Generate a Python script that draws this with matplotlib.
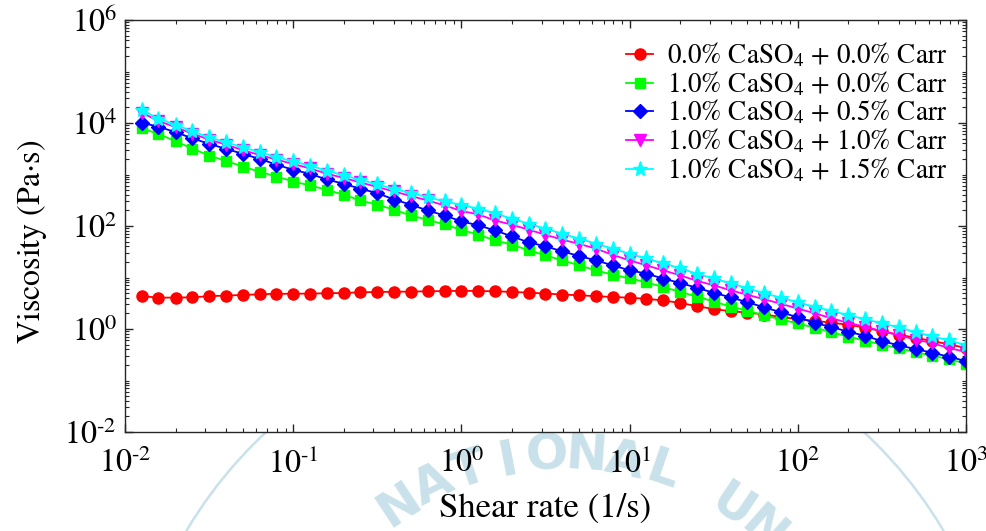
import matplotlib
matplotlib.use("Agg")
import matplotlib.pyplot as plt
from matplotlib.patches import Circle
from matplotlib.ticker import FixedLocator, LogLocator, NullFormatter, FuncFormatter
import numpy as np

plt.rcParams['font.family'] = ['STIXGeneral', 'DejaVu Serif']
plt.rcParams['mathtext.fontset'] = 'stix'

# ---------------- data ----------------
shear_rate = [0.0126, 0.0158, 0.0200, 0.0251, 0.0316, 0.0398, 0.0501, 0.0631, 0.0794, 0.100,
              0.126, 0.158, 0.200, 0.251, 0.316, 0.398, 0.501, 0.631, 0.794, 1.00,
              1.26, 1.58, 2.00, 2.51, 3.16, 3.98, 5.01, 6.31, 7.94, 10.0,
              12.6, 15.8, 20.0, 25.1, 31.6, 39.8, 50.1, 63.1, 79.4, 100.0,
              126, 158, 200, 251, 316, 398, 501, 631, 794, 1000]

visc_00_00 = [4.33, 4.07, 4.07, 4.13, 4.33, 4.46, 4.58, 4.72, 4.83, 4.83,
              4.88, 4.94, 5.01, 5.16, 5.24, 5.28, 5.33, 5.40, 5.45, 5.52,
              5.47, 5.40, 5.24, 5.09, 4.88, 4.67, 4.52, 4.33, 4.19, 4.05,
              3.86, 3.58, 3.21, 2.77, 2.45, 2.21, 2.09, 1.91, 1.71, 1.55,
              1.45, 1.32, 1.21, 1.06, 0.906, 0.774, 0.678, 0.579, 0.507, 0.425]

visc_10_00 = [7890, 6150, 4420, 3190, 2330, 1840, 1430, 1130, 914, 731,
              612, 505, 404, 313, 259, 207, 160, 132, 107, 84.0,
              67.8, 52.6, 43.5, 33.7, 26.9, 21.5, 17.2, 13.8, 11.3, 9.64,
              8.07, 6.55, 5.24, 4.27, 3.41, 2.73, 2.26, 1.85, 1.53, 1.28,
              1.06, 0.867, 0.710, 0.593, 0.497, 0.425, 0.355, 0.303, 0.260, 0.212]

visc_10_05 = [10050, 8510, 6610, 5050, 3940, 3150, 2520, 2010, 1560, 1230,
              1030, 800, 661, 528, 435, 327, 259, 200, 160, 123,
              103, 82.2, 62.8, 48.1, 40.3, 32.2, 26.1, 21.5, 17.2, 13.8,
              11.9, 9.53, 7.82, 6.31, 5.05, 4.13, 3.30, 2.64, 2.11, 1.69,
              1.31, 1.10, 0.879, 0.741, 0.579, 0.485, 0.406, 0.347, 0.288, 0.238]

visc_10_10 = [15900, 10900, 8320, 6220, 4760, 3810, 2980, 2390, 1950, 1600,
              1310, 1040, 855, 700, 573, 468, 383, 313, 251, 196,
              168, 128, 106, 84.7, 67.8, 54.2, 45.0, 36.3, 27.5, 21.5,
              17.2, 13.8, 11.0, 8.63, 7.06, 5.65, 4.62, 3.78, 3.09, 2.49,
              2.02, 1.62, 1.31, 1.11, 0.906, 0.759, 0.621, 0.531, 0.425, 0.360]

visc_10_15 = [18200, 12000, 9310, 6900, 5280, 4230, 3380, 2700, 2180, 1790,
              1490, 1190, 957, 789, 640, 528, 435, 363, 300, 256,
              216, 178, 138, 111, 88.7, 71.0, 56.8, 45.4, 36.3, 28.8,
              23.5, 18.8, 15.1, 11.8, 9.64, 7.73, 6.18, 4.94, 4.05, 3.30,
              2.68, 2.26, 1.85, 1.55, 1.28, 1.08, 0.867, 0.725, 0.598, 0.485]

labels = ['0.0% CaSO$_4$ + 0.0% Carr',
          '1.0% CaSO$_4$ + 0.0% Carr',
          '1.0% CaSO$_4$ + 0.5% Carr',
          '1.0% CaSO$_4$ + 1.0% Carr',
          '1.0% CaSO$_4$ + 1.5% Carr']
series = [visc_00_00, visc_10_00, visc_10_05, visc_10_10, visc_10_15]
colors = ['#ff0000', '#00ff00', '#0000ff', '#ff00ff', '#00ffff']
markers = ['o', 's', 'D', 'v', '*']
msizes = [8.0, 6.5, 7.0, 8.0, 11.0]

x_label = 'Shear rate (1/s)'
y_label = 'Viscosity (Pa$\\cdot$s)'
watermark = 'NATIONAL UN'

# ---------------- figure ----------------
W, H = 987, 531
fig = plt.figure(figsize=(W / 100, H / 100), dpi=100)

# faint watermark behind the axes
bg = fig.add_axes([0, 0, 1, 1])
bg.set_xlim(0, W)
bg.set_ylim(0, H)
bg.axis('off')
bg.set_zorder(0)
wm_col = '#c9e1ea'
cx, cy, R = 565, H - 755, 300
bg.add_patch(Circle((cx, cy), 440, fill=False, ec=wm_col, lw=1.8))
angles = np.linspace(-33.5, 41.5, len(watermark))
for ch, a in zip(watermark, angles):
    t = np.deg2rad(a)
    bg.text(cx + R * np.sin(t), cy + R * np.cos(t), ch, rotation=-a,
            ha='center', va='center', fontsize=36, color=wm_col,
            family='DejaVu Sans', fontweight='bold', clip_on=True)

ax = fig.add_axes([125 / W, (H - 432) / H, (966 - 125) / W, (432 - 20) / H])
ax.set_zorder(1)
ax.set_facecolor('white')

for y, lab, c, m, ms in zip(series, labels, colors, markers, msizes):
    ax.plot(shear_rate, y, color=c, marker=m, markersize=ms, lw=1.3,
            markeredgecolor=c, markerfacecolor=c, label=lab)

ax.set_xscale('log')
ax.set_yscale('log')
ax.set_xlim(1e-2, 1e3)
ax.set_ylim(1e-2, 1e6)


def pow_fmt(v, pos):
    e = int(round(np.log10(v)))
    if e < 0:
        return r'$10^{\text{-}%d}$' % (-e)
    return r'$10^{%d}$' % e


ax.yaxis.set_major_locator(FixedLocator([1e-2, 1e0, 1e2, 1e4, 1e6]))
ax.yaxis.set_minor_locator(LogLocator(base=10, subs=np.arange(1, 10), numticks=40))
ax.yaxis.set_minor_formatter(NullFormatter())
ax.xaxis.set_major_locator(FixedLocator([1e-2, 1e-1, 1e0, 1e1, 1e2, 1e3]))
ax.xaxis.set_minor_locator(LogLocator(base=10, subs=np.arange(2, 10), numticks=40))
ax.xaxis.set_minor_formatter(NullFormatter())
ax.xaxis.set_major_formatter(FuncFormatter(pow_fmt))
ax.yaxis.set_major_formatter(FuncFormatter(pow_fmt))

ax.tick_params(which='both', direction='in', top=True, right=True,
               colors='#262626', labelcolor='black')
ax.tick_params(which='major', length=6, width=1, labelsize=23)
ax.tick_params(axis='x', which='major', pad=12)
ax.tick_params(axis='y', which='major', pad=6)
ax.tick_params(which='minor', length=3, width=0.8)
for s in ax.spines.values():
    s.set_color('#262626')
    s.set_linewidth(1.0)

ax.set_xlabel(x_label, fontsize=25, labelpad=9)
ax.set_ylabel(y_label, fontsize=23, labelpad=11)
ax.yaxis.label.set_y(0.462)

leg = ax.legend(loc='upper right', bbox_to_anchor=(1.0, 0.995), frameon=False,
                fontsize=19.5, handlelength=1.0, handletextpad=0.5,
                labelspacing=0.0, borderaxespad=0.3)

fig.savefig('out.png', dpi=100)
